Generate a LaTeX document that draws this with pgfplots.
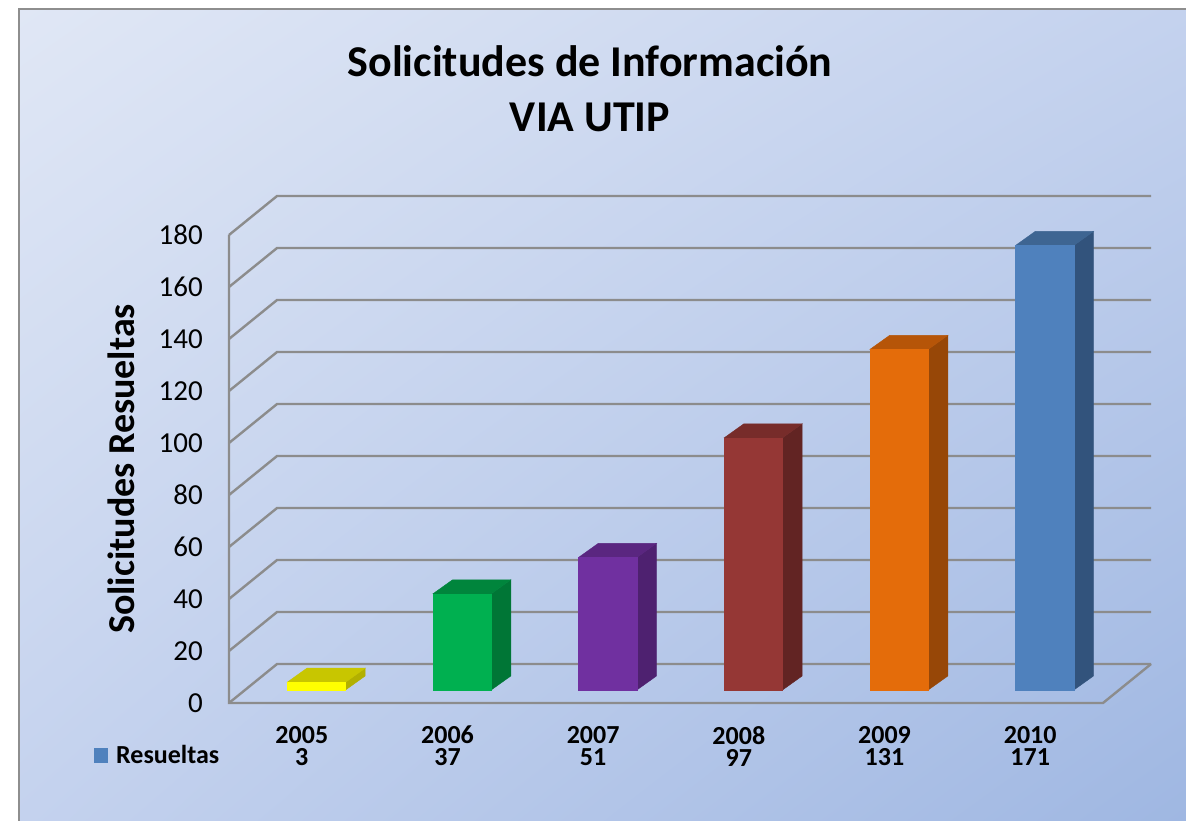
\documentclass[border=0pt]{standalone}
\usepackage{fontspec}
\setmainfont{Carlito}
\usepackage{pgfplots}
\usepackage{pgfplotstable}
\usetikzlibrary{shadings}
\pgfplotsset{compat=1.18}

\definecolor{bgA}{HTML}{E0E7F5}
\definecolor{bgM}{HTML}{C4D2EE}
\definecolor{bgB}{HTML}{9FB7E2}
\definecolor{gridc}{HTML}{8C8C8C}
\definecolor{framec}{HTML}{8E8E8E}
\definecolor{c0F}{HTML}{FFFF00}\definecolor{c0T}{HTML}{C8C600}\definecolor{c0S}{HTML}{B2B000}
\definecolor{c1F}{HTML}{00B050}\definecolor{c1T}{HTML}{00853C}\definecolor{c1S}{HTML}{007636}
\definecolor{c2F}{HTML}{7030A0}\definecolor{c2T}{HTML}{5A2680}\definecolor{c2S}{HTML}{4E2170}
\definecolor{c3F}{HTML}{953735}\definecolor{c3T}{HTML}{772C2A}\definecolor{c3S}{HTML}{622423}
\definecolor{c4F}{HTML}{E46C0A}\definecolor{c4T}{HTML}{B65508}\definecolor{c4S}{HTML}{974707}
\definecolor{c5F}{HTML}{4F81BD}\definecolor{c5T}{HTML}{3E6592}\definecolor{c5S}{HTML}{32537C}

\pgfdeclareplotmark{nothing}{}

\pgfplotstableread{
x v
0 3
1 37
2 51
3 97
4 131
5 171
}\bars

\begin{document}
\begin{tikzpicture}
\useasboundingbox (0pt,0pt) rectangle (1186pt,821pt);
\shade[upper left=bgA, upper right=bgM, lower left=bgM, lower right=bgB] (19pt,0pt) rectangle (1186pt,812pt);
\draw[framec, line width=2.2pt] (19pt,-5pt) -- (19pt,812pt) -- (1195pt,812pt);

\node[anchor=base, inner sep=0pt, font=\bfseries\fontsize{44}{52}\selectfont] at (590pt,744pt) {Solicitudes de Información};
\node[anchor=base, inner sep=0pt, font=\bfseries\fontsize{44}{52}\selectfont] at (590pt,689pt) {VIA UTIP};

\begin{axis}[
  scale only axis,
  width=874pt, height=468pt,
  at={(229pt,118pt)}, anchor=south west,
  xmin=-0.5, xmax=5.5, ymin=0, ymax=180,
  clip=false,
  axis line style={draw=none},
  tick style={draw=none},
  major tick length=0pt,
  ytick={0,20,...,180},
  /pgf/number format/assume math mode=true,
  yticklabel style={font=\fontsize{29}{32}\selectfont, anchor=east, inner sep=0pt, xshift=-26pt},
  xtick={0,1,2,3,4,5},
  xticklabels={{2005\\3},{2006\\37},{2007\\51},{2008\\97},{2009\\131},{2010\\171}},
  xticklabel style={font=\bfseries\fontsize{26}{22}\selectfont, align=center, anchor=north, inner sep=0pt, yshift=-23pt},
  ylabel={Solicitudes Resueltas},
  every axis y label/.style={at={(axis description cs:-0.1076,0.5)}, rotate=90, anchor=base, font=\bfseries\fontsize{38}{42}\selectfont},
]
% floor, walls and gridlines
\pgfplotsinvokeforeach{0,20,40,60,80,100,120,140,160,180}{
  \draw[gridc, line width=2.4pt] (axis cs:-0.5,#1) -- (axis cs:-0.17,{#1+15}) -- (axis cs:5.83,{#1+15});
}
\draw[gridc, line width=2.4pt] (axis cs:-0.5,180) -- (axis cs:-0.5,0) -- (axis cs:5.5,0) -- (axis cs:5.83,15);

\addplot[scatter, only marks, mark=nothing,
  visualization depends on={\thisrow{v} \as \val},
  visualization depends on={\thisrow{x} \as \idx},
  scatter/@pre marker code/.code={%
    \pgfmathtruncatemacro\k{\idx}%
    \pgfmathsetmacro\ylo{5-\val}%
    \pgfmathsetmacro\ylb{10.4-\val}%
    \fill[c\k S] (axis direction cs:0.3,\ylo) -- (axis direction cs:0.435,\ylb) -- (axis direction cs:0.435,10.4) -- (axis direction cs:0.3,5) -- cycle;
    \fill[c\k T] (axis direction cs:-0.1,5) -- (axis direction cs:0.3,5) -- (axis direction cs:0.435,10.4) -- (axis direction cs:0.035,10.4) -- cycle;
    \fill[c\k F] (axis direction cs:-0.1,\ylo) rectangle (axis direction cs:0.3,5);
  },
  scatter/@post marker code/.code={},
] table[x=x, y=v] {\bars};
\end{axis}

\fill[c5F] (94pt,58pt) rectangle (108pt,73pt);
\node[anchor=base west, inner sep=0pt, font=\bfseries\fontsize{26}{30}\selectfont] at (116pt,57pt) {Resueltas};
\end{tikzpicture}
\end{document}
